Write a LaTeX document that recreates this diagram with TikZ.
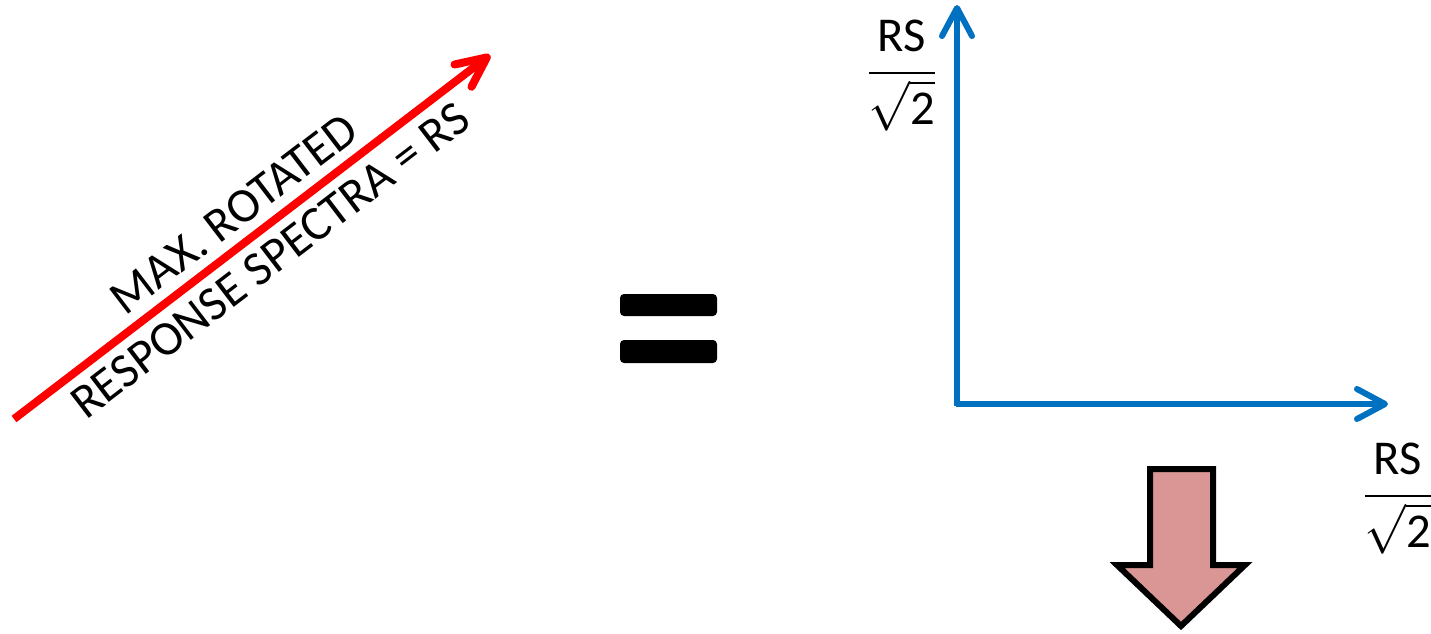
\documentclass[tikz,border=0pt]{standalone}
\usepackage{amsmath}
\usepackage{fontspec}
\setmainfont{Carlito}
\usetikzlibrary{arrows.meta}
\definecolor{axisblue}{HTML}{0070C0}
\definecolor{arrowpink}{HTML}{D99694}

\begin{document}
\begin{tikzpicture}[
    x=0.5pt, y=-0.5pt,
    font=\fontsize{24.3}{29.5}\selectfont,
    rsarrow/.style={draw=red, line width=4pt,
                    -{Straight Barb[round, length=15pt, width=14pt]}},
    axisline/.style={draw=axisblue, line width=3pt,
                     -{Straight Barb[round, length=14pt, width=15pt]}},
    bar/.style={fill=black, rounded corners=2pt},
    frac/.style={inner sep=0pt},
    bigdown/.style={fill=arrowpink, draw=black, line width=3pt, line join=miter}
  ]
  \useasboundingbox (0,0) rectangle (1431,633);

  % rotated spectrum
  \coordinate (rstail) at (14,419);
  \coordinate (rstip) at (490,55);
  \draw[rsarrow] (rstail) -- node[sloped, align=center, inner sep=2pt] {MAX. ROTATED\\RESPONSE SPECTRA = RS} (rstip);

  % equals sign
  \fill[bar] (620,294) rectangle (717,316);
  \fill[bar] (620,340) rectangle (717,363);

  % components
  \coordinate (corner) at (957,404);
  \coordinate (ytip) at (957,5);
  \coordinate (xtip) at (1388,404);
  \draw[axisline] ([yshift=-0.75pt]corner) -- (ytip);
  \draw[axisline] ([xshift=-0.75pt]corner) -- (xtip);
  \node[frac] (yfrac) at (902,76) {$\dfrac{\text{RS}}{\sqrt{\text{2}}}$};
  \node[frac] (xfrac) at (1398,499) {$\dfrac{\text{RS}}{\sqrt{\text{2}}}$};

  \filldraw[bigdown] (1150,469) -- (1213,469) -- (1213,565) -- (1245,565)
    -- (1181,626) -- (1117,565) -- (1150,565) -- cycle;
\end{tikzpicture}
\end{document}
